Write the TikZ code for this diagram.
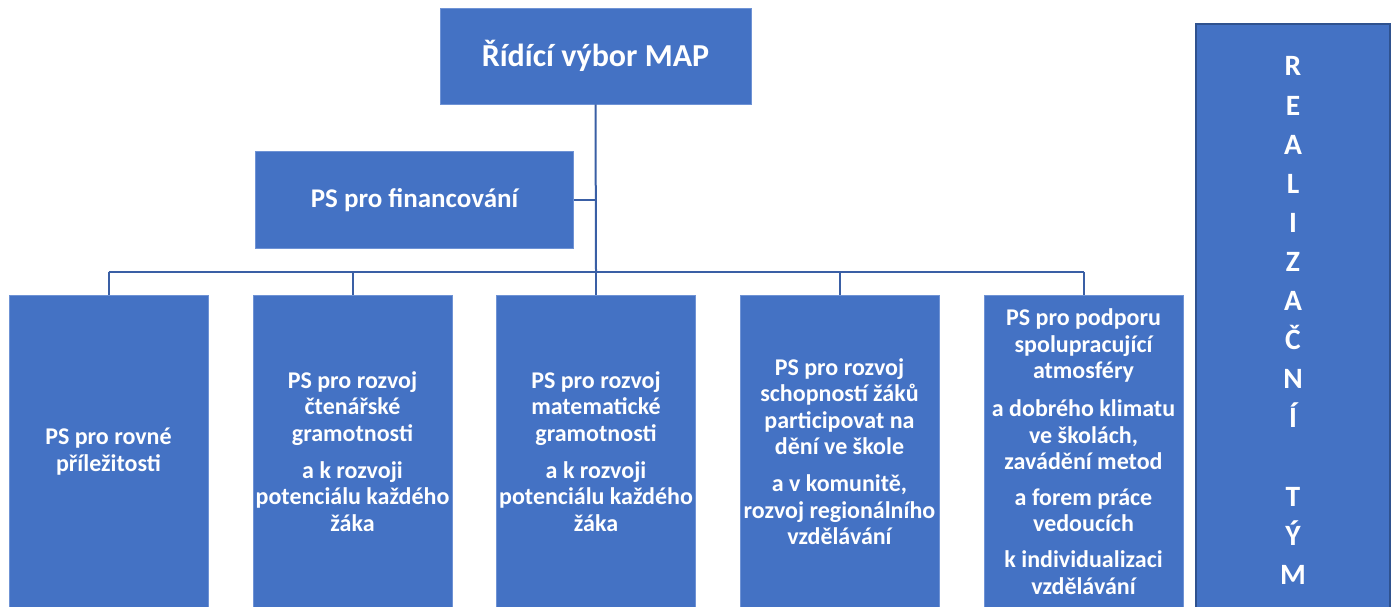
\documentclass[tikz,border=0pt]{standalone}
\usepackage{fontspec}
\setmainfont{Carlito}
\definecolor{boxfill}{HTML}{4472C4}
\definecolor{boxedge}{HTML}{6F93D5}
\definecolor{darkedge}{HTML}{2F528F}
\definecolor{linkc}{RGB}{58,95,165}
\tikzset{
  orgbox/.style={rectangle, fill=boxfill, draw=boxedge, line width=0.8pt, inner sep=0pt,
    text=white, font=\bfseries\fontsize{24}{26.6}\selectfont, align=center},
  bigbox/.style={orgbox, font=\bfseries\fontsize{32}{38}\selectfont},
  finbox/.style={orgbox, font=\bfseries\fontsize{27}{32}\selectfont},
  teambox/.style={orgbox, draw=darkedge, line width=2pt, font=\bfseries\fontsize{29.5}{39.1}\selectfont},
  link/.style={draw=linkc, line width=2pt}
}
\begin{document}
\begin{tikzpicture}[x=1pt,y=-1pt]
\useasboundingbox (0,0) rectangle (1394,607);
\clip (0,0) rectangle (1394,607);
\node[bigbox, minimum width=311pt, minimum height=96pt] (rv) at (595.5,56) {Řídící výbor MAP};
\node[finbox, minimum width=318pt, minimum height=97pt] (fin) at (414.5,200) {PS pro financování};
\node[orgbox, minimum width=199pt, minimum height=313pt] (b1) at (108.5,451.5) {PS pro rovné\\příležitosti};
\node[orgbox, minimum width=199pt, minimum height=313pt] (b2) at (352.5,451.5) {PS pro rozvoj\\čtenářské\\gramotnosti\\[10pt]a k rozvoji\\potenciálu každého\\žáka};
\node[orgbox, minimum width=199pt, minimum height=313pt] (b3) at (596,451.5) {PS pro rozvoj\\matematické\\gramotnosti\\[10pt]a k rozvoji\\potenciálu každého\\žáka};
\node[orgbox, minimum width=199pt, minimum height=313pt] (b4) at (839.5,451.5) {PS pro rozvoj\\schopností žáků\\participovat na\\dění ve škole\\[10pt]a v komunitě,\\rozvoj regionálního\\vzdělávání};
\node[orgbox, minimum width=199pt, minimum height=313pt] (b5) at (1083.5,451.5) {PS pro podporu\\spolupracující\\atmosféry\\[11pt]a dobrého klimatu\\ve školách,\\zavádění metod\\[9pt]a forem práce\\vedoucích\\[9pt]k individualizaci\\vzdělávání};
\node[teambox, minimum width=194pt, minimum height=593pt] (rt) at (1293,320.5) {R\\E\\A\\L\\I\\Z\\A\\Č\\N\\Í\\[39.1pt]T\\Ý\\M};
\coordinate (bus) at (596,272);
\coordinate (fj) at (596,200);
\draw[link] (rv.south) -- (bus);
\draw[link] (fin.east) -- (fj);
\draw[link] (b1.north |- bus) -- (b5.north |- bus);
\foreach \b in {b1,b2,b3,b4,b5} {
  \draw[link] (\b.north |- bus) -- (\b.north);
}
\end{tikzpicture}
\end{document}
